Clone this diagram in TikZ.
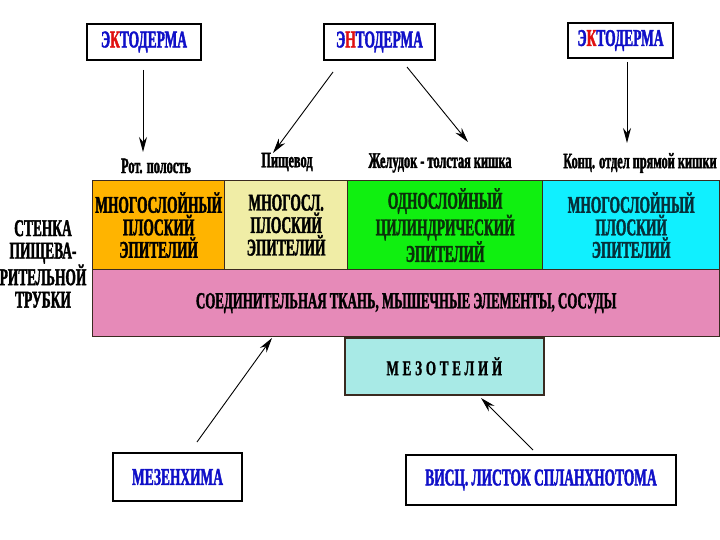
\documentclass[tikz,border=0pt]{standalone}
\usepackage{fontspec}
\setmainfont{Liberation Serif}
\newfontfamily\narrowfont{Liberation Serif}[BoldFont={Liberation Serif Bold},
  FakeStretch=0.56, BoldFeatures={FakeBold=1.6}]
\newfontfamily\spacedfont{Liberation Serif}[BoldFont={Liberation Serif Bold},
  LetterSpace=18, FakeStretch=0.62, BoldFeatures={FakeBold=1.2}]
\usetikzlibrary{arrows.meta}

\definecolor{germblue}{HTML}{1010C8}
\definecolor{germred}{HTML}{E01010}
\definecolor{orangeL}{HTML}{FFB400}
\definecolor{creamL}{HTML}{F0EDA6}
\definecolor{greenL}{HTML}{10F010}
\definecolor{cyanL}{HTML}{10F0FF}
\definecolor{pinkL}{HTML}{E68AB8}
\definecolor{mesoL}{HTML}{A8EAE6}
\definecolor{edgeL}{HTML}{3A2A20}
\definecolor{greenT}{HTML}{0A300A}
\definecolor{cyanT}{HTML}{06303A}

\tikzset{
  germbox/.style = {draw, line width=2.2pt, fill=white, inner sep=0pt,
    font=\narrowfont\bfseries\fontsize{24}{26}\selectfont, text=germblue},
  layerbox/.style = {draw=edgeL, line width=1.3pt, inner sep=0pt, anchor=north west,
    align=center, font=\narrowfont\bfseries\fontsize{24}{22.5}\selectfont},
  organlabel/.style = {font=\narrowfont\bfseries\fontsize{22}{24}\selectfont},
  devarrow/.style = {-{Stealth[length=15pt,width=8pt]}, line width=0.9pt},
}

\begin{document}
\begin{tikzpicture}[x = 1pt, y = -1pt]
\useasboundingbox (0,0) rectangle (720,540);

% germ layers
\node[germbox, minimum width=114, minimum height=36] (ECTO1) at (144,42)
  {Э{\color{germred}К}ТОДЕРМА};
\node[germbox, minimum width=111, minimum height=36] (ENTO) at (379.5,42)
  {Э{\color{germred}Н}ТОДЕРМА};
\node[germbox, minimum width=105, minimum height=35] (ECTO2) at (620.5,40.5)
  {Э{\color{germred}К}ТОДЕРМА};

% organs
\node[organlabel] (MOUTH) at (156,166) {Рот. полость};
\node[organlabel] (GULLET) at (287,162) {Пищевод};
\node[organlabel] (STOMACH) at (440,163) {Желудок - толстая кишка};
\node[organlabel] (RECTUM) at (640,163) {Конц. отдел прямой кишки};

% epithelia
\node[layerbox, fill=orangeL, minimum width=132, minimum height=89] (E1) at (92,180)
  {МНОГОСЛОЙНЫЙ\\ПЛОСКИЙ\\ЭПИТЕЛИЙ};
\node[layerbox, fill=creamL, minimum width=123, minimum height=89] (E2) at (224,180)
  {МНОГОСЛ.\\ПЛОСКИЙ\\ЭПИТЕЛИЙ};
\node[layerbox, fill=greenL, text=greenT, minimum width=195, minimum height=89] (E3) at (347,180)
  {ОДНОСЛОЙНЫЙ\\ЦИЛИНДРИЧЕСКИЙ\\ЭПИТЕЛИЙ};
\node[layerbox, fill=cyanL, text=cyanT, minimum width=177, minimum height=89] (E4) at (542,180)
  {МНОГОСЛОЙНЫЙ\\ПЛОСКИЙ\\ЭПИТЕЛИЙ};

% connective tissue and mesothelium
\node[layerbox, fill=pinkL, minimum width=627, minimum height=67,
  font=\narrowfont\bfseries\fontsize{23}{25}\selectfont] (TISSUE) at (92,269)
  {СОЕДИНИТЕЛЬНАЯ ТКАНЬ, МЫШЕЧНЫЕ ЭЛЕМЕНТЫ, СОСУДЫ};
\node[layerbox, fill=mesoL, line width=1.6pt, minimum width=199, minimum height=57,
  font=\spacedfont\bfseries\fontsize{21}{23}\selectfont] (MESO) at (344,337)
  {МЕЗОТЕЛИЙ};

\node[align=center, inner sep=0pt, font=\narrowfont\bfseries\fontsize{24}{22.5}\selectfont] (WALL) at (43,264)
  {СТЕНКА\\ПИЩЕВА-\\РИТЕЛЬНОЙ\\ТРУБКИ};

% mesodermal sources
\node[germbox, minimum width=129, minimum height=48] (MESENCH) at (177.5,477)
  {МЕЗЕНХИМА};
\node[germbox, minimum width=270, minimum height=50] (SPLANCH) at (541,480)
  {ВИСЦ. ЛИСТОК СПЛАНХНОТОМА};

% arrow ends
\coordinate (a1) at (143,70);   \coordinate (b1) at (143,152);
\coordinate (a2) at (333,72);   \coordinate (b2) at (273,153);
\coordinate (a3) at (407,67);   \coordinate (b3) at (468,142);
\coordinate (a4) at (627,62);   \coordinate (b4) at (627,143);
\coordinate (a5) at (197,442);  \coordinate (b5) at (272,338);
\coordinate (a6) at (533,450);  \coordinate (b6) at (481,398);

\foreach \i in {1,...,6}
  \draw[devarrow] (a\i) -- (b\i);
\end{tikzpicture}
\end{document}
